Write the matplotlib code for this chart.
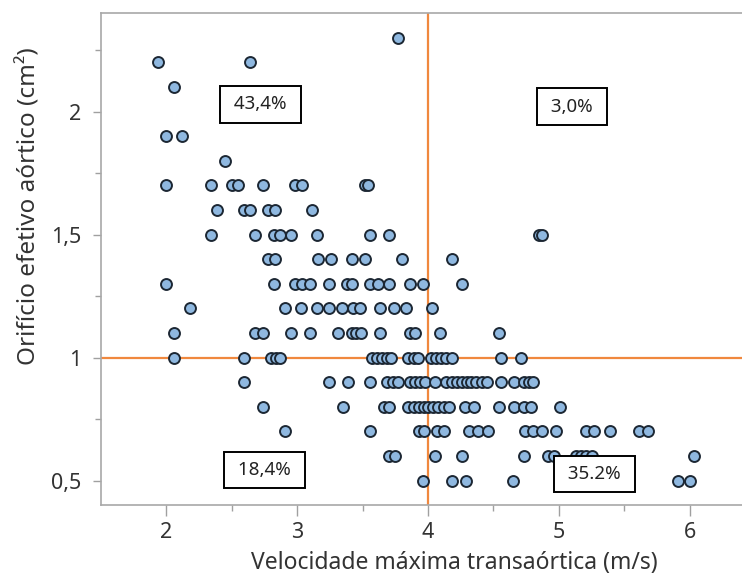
import matplotlib.pyplot as plt
import numpy as np

plt.rcParams['font.family'] = ['Noto Sans', 'DejaVu Sans']

# velocidade (m/s) por linha de orificio efetivo (cm2)
rows = {
    0.5: [3.96, 4.18, 4.29, 4.65, 5.91, 6.00],
    0.6: [3.70, 3.75, 4.05, 4.26, 4.73, 4.92, 4.96, 5.13, 5.17, 5.21, 5.25, 6.03],
    0.7: [2.91, 3.56, 3.93, 3.97, 4.07, 4.12, 4.31, 4.38, 4.46, 4.74, 4.80, 4.87,
          4.98, 5.21, 5.27, 5.39, 5.61, 5.68],
    0.8: [2.74, 3.35, 3.66, 3.70, 3.85, 3.89, 3.93, 3.97, 4.00, 4.04, 4.08, 4.12,
          4.16, 4.28, 4.35, 4.54, 4.66, 4.73, 4.79, 5.01],
    0.9: [2.59, 3.24, 3.39, 3.56, 3.69, 3.73, 3.77, 3.86, 3.90, 3.94, 3.98, 4.05,
          4.14, 4.18, 4.22, 4.26, 4.30, 4.33, 4.37, 4.41, 4.45, 4.56, 4.66, 4.73,
          4.77, 4.80],
    1.0: [2.06, 2.59, 2.80, 2.84, 2.87, 3.57, 3.61, 3.65, 3.69, 3.72, 3.85, 3.89,
          3.92, 4.02, 4.06, 4.10, 4.14, 4.18, 4.56, 4.71],
    1.1: [2.06, 2.68, 2.74, 2.95, 3.10, 3.31, 3.42, 3.45, 3.49, 3.63, 3.86, 3.90,
          4.09, 4.54],
    1.2: [2.18, 2.91, 3.03, 3.15, 3.24, 3.34, 3.43, 3.48, 3.63, 3.74, 3.83, 4.03],
    1.3: [2.00, 2.82, 2.98, 3.04, 3.10, 3.24, 3.38, 3.42, 3.56, 3.62, 3.70, 3.86,
          3.96, 4.26],
    1.4: [2.78, 2.83, 3.16, 3.26, 3.42, 3.52, 3.80, 4.18],
    1.5: [2.34, 2.68, 2.82, 2.87, 2.95, 3.15, 3.56, 3.70, 4.85, 4.87],
    1.6: [2.39, 2.59, 2.64, 2.78, 2.83, 3.11],
    1.7: [2.00, 2.34, 2.50, 2.55, 2.74, 2.98, 3.04, 3.52, 3.54],
    1.8: [2.45],
    1.9: [2.00, 2.12],
    2.0: [2.45],
    2.1: [2.06],
    2.2: [1.94, 2.64],
    2.3: [3.77],
}

vel = np.array([v for y, xs in rows.items() for v in xs])
eoa = np.array([y for y, xs in rows.items() for v in xs])

# rotulos dos quadrantes
quad_text = ["43,4%", "3,0%", "18,4%", "35.2%"]
quad_x = [2.72, 5.10, 2.75, 5.27]
quad_y = [2.03, 2.02, 0.543, 0.527]

fig = plt.figure(figsize=(7.42, 5.76), dpi=100)
ax = fig.add_axes([0.136, 0.123, 0.864, 0.854])

ax.scatter(vel, eoa, s=62, facecolor='#8fb8e0', edgecolor='#1c2733',
           linewidth=1.4, zorder=3)

ax.axvline(4, color='#f0883e', lw=1.6, zorder=2)
ax.axhline(1, color='#f0883e', lw=1.6, zorder=2)

for t, x, y in zip(quad_text, quad_x, quad_y):
    ax.text(x, y, ' ' + t + ' ', ha='center', va='center', fontsize=13.5,
            color='#222222', zorder=4,
            bbox=dict(boxstyle='square,pad=0.5', facecolor='white',
                      edgecolor='black', linewidth=1.4))

ax.set_xlim(1.5, 6.4)
ax.set_ylim(0.4, 2.4)

ax.set_xticks([2, 3, 4, 5, 6])
ax.set_xticks([2.5, 3.5, 4.5, 5.5], minor=True)
ax.set_yticks([0.5, 1, 1.5, 2])
ax.set_yticklabels(['0,5', '1', '1,5', '2'])
ax.set_yticks([0.75, 1.25, 1.75, 2.25], minor=True)

ax.tick_params(which='both', width=1, color='#a0a0a0',
               labelsize=15.5, labelcolor='#333333')
ax.tick_params(axis='x', which='major', length=8, pad=4)
ax.tick_params(axis='x', which='minor', length=4.5)
ax.tick_params(axis='y', which='major', length=6, pad=8)
ax.tick_params(axis='y', which='minor', length=4)

for side in ['left', 'bottom', 'top']:
    ax.spines[side].set_color('#a8a8a8')
    ax.spines[side].set_linewidth(1.2)
ax.spines['right'].set_visible(False)

ax.set_xlabel('Velocidade máxima transaórtica (m/s)', fontsize=16.5,
              color='#333333')
ax.set_ylabel('Orifício efetivo aórtico (cm²)', fontsize=17.5,
              color='#333333')
ax.xaxis.set_label_coords(0.552, -0.093)
ax.yaxis.set_label_coords(-0.092, 0.608)

fig.savefig('out.png', dpi=100)
